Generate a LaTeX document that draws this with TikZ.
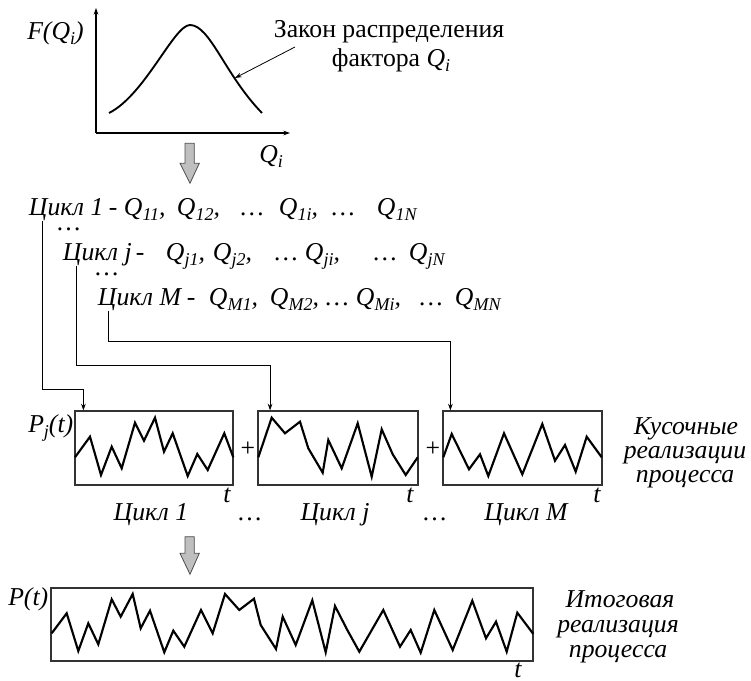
\documentclass[tikz,border=0pt]{standalone}
\usepackage{fontspec}
\setmainfont{Liberation Serif}
\usetikzlibrary{arrows.meta}
\newcommand{\mysub}[1]{\raisebox{-0.4ex}{\fontsize{13.5}{14}\selectfont #1}}
\newcommand{\putat}[2]{\makebox[0pt][l]{\hspace*{#1pt}#2}}
\begin{document}
\begin{tikzpicture}[x=0.75pt,y=-0.75pt,
  txt/.style={font=\fontsize{19.3}{21}\selectfont\itshape, inner sep=0pt},
  rm/.style={font=\fontsize{19.3}{21}\selectfont, inner sep=0pt},
  cyc/.style={font=\fontsize{19.3}{21}\selectfont\itshape, inner sep=0pt, anchor=base west},
  conn/.style={line width=0.6pt, -{Stealth[length=5pt,width=3.5pt]}},
  axis/.style={line width=0.8pt, -{Stealth[length=5pt,width=3.5pt]}},
  pbox/.style={draw=black!80, line width=0.9pt, inner sep=0pt},
  zig/.style={line width=1.6pt, line join=miter},
  blockarrow/.style={fill=black!25, draw=black!70, line width=0.6pt}]
\useasboundingbox (0,0) rectangle (751,681);

% ---- distribution plot ----
\coordinate (O) at (96,133);
\coordinate (ytop) at (96,8);
\coordinate (xend) at (290,133);
\draw[axis] (O) -- (ytop);
\draw[axis] (O) -- (xend);
\coordinate (cs) at (109,113);
\coordinate (cp) at (190,25);
\coordinate (ce) at (262,113);
\draw[line width=1.4pt] (cs) .. controls (145,95) and (174,25) .. (cp) .. controls (210,25) and (225,75) .. (ce);
\node[txt, anchor=base west] (fq) at (27,40) {F(Q\mysub{i})};
\node[txt, anchor=base west] (qi) at (259,163) {Q\mysub{i}};
\node[rm, anchor=base] (law1) at (389,38) {Закон распределения};
\node[rm, anchor=base] (law2) at (391,67) {фактора \textit{Q}\mysub{\textit{i}}};
\coordinate (lawfrom) at (295,47);
\coordinate (lawto) at (235,78);
\draw[conn] (lawfrom) -- (lawto);

% ---- block arrow 1 ----
\draw[blockarrow] (185,143.3) -- (194.3,143.3) -- (194.3,163.3) -- (199.3,163.3) -- (190,183.3) -- (180,163.3) -- (185,163.3) -- cycle;

% ---- cycles (offsets in pt = px*0.75) ----
\node[cyc] (cyc1) at (28,216) {\putat{0}{Цикл 1}\putat{60}{-}\putat{71.25}{Q\mysub{11},}\putat{111}{Q\mysub{12},}\putat{159}{…}\putat{187.5}{Q\mysub{1i},}\putat{227.25}{…}\putat{261}{Q\mysub{1N}}};
\node[cyc, anchor=base] (dots1) at (69,231) {…};
\node[cyc] (cycj) at (62,261) {\putat{0}{Цикл j}\putat{54.75}{-}\putat{77.25}{Q\mysub{j1},}\putat{112.5}{Q\mysub{j2},}\putat{159}{…}\putat{181.5}{Q\mysub{ji},}\putat{233.25}{…}\putat{259.5}{Q\mysub{jN}}};
\node[cyc, anchor=base] (dots2) at (107,276) {…};
\node[cyc] (cycM) at (97,306) {\putat{0}{Цикл M}\putat{66.75}{-}\putat{83.25}{Q\mysub{M1},}\putat{129}{Q\mysub{M2},}\putat{171}{…}\putat{193.5}{Q\mysub{Mi},}\putat{241.5}{…}\putat{267.75}{Q\mysub{MN}}};

% ---- boxes ----
\node[pbox, minimum width=118.5pt, minimum height=55.5pt] (b1) at (154,448) {};
\node[pbox, minimum width=120pt, minimum height=55.5pt] (b2) at (338,448) {};
\node[pbox, minimum width=119.25pt, minimum height=55.5pt] (b3) at (522.5,448) {};

% ---- connectors ----
\coordinate (s1) at (42.7,221);
\coordinate (s2) at (76.7,266);
\coordinate (s3) at (108.3,311);
\draw[conn] (s1) -- (42.7,389) -| ([xshift=6.75pt]b1.north west);
\draw[conn] (s2) -- (76.7,365.7) -| ([xshift=9.5pt]b2.north west);
\draw[conn] (s3) -- (108.3,341) -| ([xshift=6pt]b3.north west);

% ---- zigzags ----
\draw[zig] (75,457.3) -- (90,436.7) -- (101,475) -- (111.7,446.7) -- (121.7,468.3) -- (135,422.7) -- (144,440.7) -- (155,417.7) -- (164,451.7) -- (172.7,433.3) -- (187.7,476) -- (197.3,454) -- (207.7,470) -- (224.3,433.3) -- (233.3,457.3);
\draw[zig] (258.3,457.3) -- (271.7,417.7) -- (285,433.3) -- (300,421.7) -- (308.3,448.3) -- (322.7,472.7) -- (328.3,440) -- (341.7,468.3) -- (357.7,423.3) -- (371.7,476.7) -- (381.7,429.3) -- (392.7,454.3) -- (405.7,475) -- (417.7,457.3);
\draw[zig] (443.3,457.3) -- (451.7,434) -- (469,469.3) -- (480,454.3) -- (488.3,476) -- (504,433.3) -- (522.3,474.3) -- (542.3,424) -- (555,460.7) -- (565,445) -- (575.7,471.7) -- (586.7,436.7) -- (601.7,457.3);

\node[txt, anchor=base west] (pj) at (28,433) {P\mysub{j}(t)};
\node[rm] (plus1) at (248,449) {+};
\node[rm] (plus2) at (433,449) {+};
\node[txt, anchor=base] (t1) at (227,503) {t};
\node[txt, anchor=base] (t2) at (410,503) {t};
\node[txt, anchor=base] (t3) at (597,503) {t};

\node[txt, anchor=base] (l1) at (151,520) {Цикл 1};
\node[txt, anchor=base] (dd1) at (250,520) {…};
\node[txt, anchor=base] (lj) at (335,520) {Цикл j};
\node[txt, anchor=base] (dd2) at (435,520) {…};
\node[txt, anchor=base] (lM) at (526,520) {Цикл M};

\node[txt, anchor=base] (k1) at (686,435) {Кусочные};
\node[txt, anchor=base] (k2) at (685,459) {реализации};
\node[txt, anchor=base] (k3) at (685,483) {процесса};

% ---- block arrow 2 ----
\draw[blockarrow] (185,536.7) -- (194.3,536.7) -- (194.3,553.3) -- (199.3,553.3) -- (190,574.3) -- (180,553.3) -- (185,553.3) -- cycle;

% ---- final process ----
\node[pbox, minimum width=361.5pt, minimum height=54.75pt] (bf) at (292,624.5) {};
\draw[zig] (51.7,633.3) -- (66.7,613.3) -- (78.3,651) -- (88.3,623.3) -- (98.3,644.3) -- (111.7,599.3) -- (120.7,616.7) -- (132.7,594) -- (140.7,628.3) -- (150,610.7) -- (164.3,652.3) -- (173.3,630.7) -- (184.3,646.7) -- (201,610) -- (212.7,633.3) -- (225,594) -- (239.3,610) -- (254,598.7) -- (260.7,625) -- (276,649) -- (282.7,616.7) -- (295.7,645) -- (312.3,600.3) -- (325.7,652.3) -- (335,606) -- (347.3,630) -- (359.3,651.7) -- (383.3,610) -- (400,646.7) -- (410.7,630) -- (420.7,652.7) -- (434.3,610) -- (452.7,650) -- (472.3,600.7) -- (486,638.3) -- (496,621.7) -- (506.7,651.7) -- (517.3,612.7) -- (533.3,634);
\node[txt, anchor=base west] (pt) at (8,605) {P(t)};
\node[txt, anchor=base] (tf) at (518,677) {t};

\node[txt, anchor=base] (i1) at (620,607) {Итоговая};
\node[txt, anchor=base] (i2) at (618,632) {реализация};
\node[txt, anchor=base] (i3) at (618,657) {процесса};
\end{tikzpicture}
\end{document}
